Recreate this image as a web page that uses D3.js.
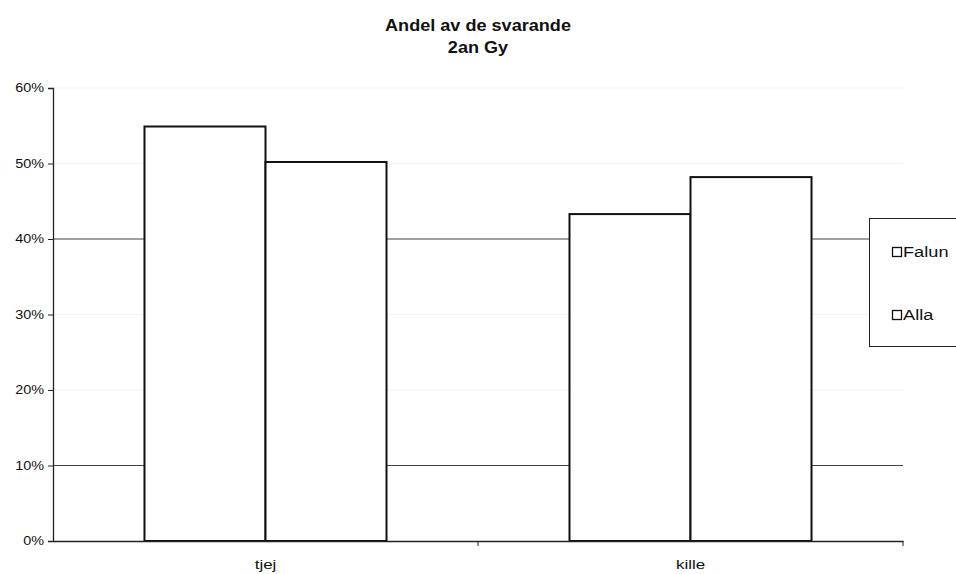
<!DOCTYPE html>
<html><head><meta charset="utf-8">
<script src="https://cdn.jsdelivr.net/npm/d3@7"></script>
<style>body{margin:0;background:#fff}svg{display:block}text{font-family:"Liberation Sans",Arial,sans-serif}</style>
</head><body>
<svg id="c" width="956" height="574"></svg>
<script>
const categories = ["tjej", "kille"];
const seriesNames = ["Falun", "Alla"];
const falun = [0.549, 0.433];
const alla = [0.502, 0.482];
const yTicks = [0, 0.1, 0.2, 0.3, 0.4, 0.5, 0.6];
const strongGrid = [0.1, 0.4];
const titleLines = ["Andel av de svarande", "2an Gy"];

const svg = d3.select("#c");
const m = {l: 53, r: 903, t: 88, b: 541};
const x = d3.scaleBand().domain(categories).range([m.l, m.r]).paddingInner(0).paddingOuter(0);
const x1 = d3.scaleBand().domain(seriesNames).range([0, x.bandwidth()]).paddingInner(0).paddingOuter(0.756);
const y = d3.scaleLinear().domain([0, 0.6]).range([m.b, m.t]);

function stretch(sel, k) {
  sel.each(function() {
    const len = this.getComputedTextLength();
    d3.select(this).attr("textLength", len * k).attr("lengthAdjust", "spacingAndGlyphs");
  });
}

// title
svg.append("g").selectAll("text").data(titleLines).join("text")
  .attr("x", 478).attr("y", (d, i) => 31 + i * 22).attr("text-anchor", "middle")
  .attr("font-weight", "bold").attr("font-size", 16).attr("fill", "#111").text(d => d)
  .call(stretch, 1.13);

// gridlines
svg.append("g").selectAll("line").data(yTicks.filter(d => d > 0)).join("line")
  .attr("x1", m.l).attr("x2", m.r).attr("y1", d => y(d)).attr("y2", d => y(d))
  .attr("stroke", d => strongGrid.includes(d) ? "#444" : "#f2f2f2").attr("stroke-width", 1);

// bars
const rows = categories.map((c, i) => ({c, vals: [falun[i], alla[i]]}));
const g = svg.append("g").selectAll("g").data(rows).join("g")
  .attr("transform", d => `translate(${x(d.c)},0)`);
g.selectAll("rect").data(d => d.vals.map((v, j) => ({s: seriesNames[j], v}))).join("rect")
  .attr("x", d => x1(d.s)).attr("width", x1.bandwidth())
  .attr("y", d => y(d.v)).attr("height", d => y(0) - y(d.v))
  .attr("fill", "#fff").attr("stroke", "#111").attr("stroke-width", 2);

// y axis
const ya = svg.append("g").attr("transform", `translate(${m.l},0)`)
  .call(d3.axisLeft(y).tickValues(yTicks).tickFormat(d3.format(".0%")).tickSize(5).tickPadding(4));
ya.select(".domain").attr("stroke", "#222").attr("stroke-width", 1.3);
ya.selectAll(".tick line").attr("stroke", "#222");
ya.selectAll("text").attr("font-size", 12).attr("fill", "#111")
  .style("font-family", '"Liberation Sans",Arial,sans-serif').call(stretch, 1.2);

// x axis
const xa = svg.append("g").attr("transform", `translate(0,${m.b})`)
  .call(d3.axisBottom(x).tickSize(0).tickPadding(19));
xa.select(".domain").attr("stroke", "#222").attr("stroke-width", 1.3);
xa.selectAll("text").attr("font-size", 13).attr("fill", "#111")
  .style("font-family", '"Liberation Sans",Arial,sans-serif').call(stretch, 1.3);
// category separator ticks
const seps = categories.map(c => x(c) + x.bandwidth());
svg.append("g").selectAll("line").data(seps).join("line")
  .attr("x1", d => d).attr("x2", d => d).attr("y1", m.b).attr("y2", m.b + 5)
  .attr("stroke", "#222");

// legend
const lg = svg.append("g");
lg.append("rect").attr("x", 869.5).attr("y", 218.5).attr("width", 100).attr("height", 128)
  .attr("fill", "#fff").attr("stroke", "#222").attr("stroke-width", 1);
const li = lg.selectAll("g").data(seriesNames).join("g")
  .attr("transform", (d, i) => `translate(892,${257 + i * 63})`);
li.append("rect").attr("x", 0.5).attr("y", -9.5).attr("width", 9).attr("height", 9)
  .attr("fill", "#fff").attr("stroke", "#111").attr("stroke-width", 1.3);
li.append("text").attr("x", 11).attr("y", 0).attr("font-size", 14).attr("fill", "#111").text(d => d)
  .call(stretch, 1.3);
</script>
</body></html>
